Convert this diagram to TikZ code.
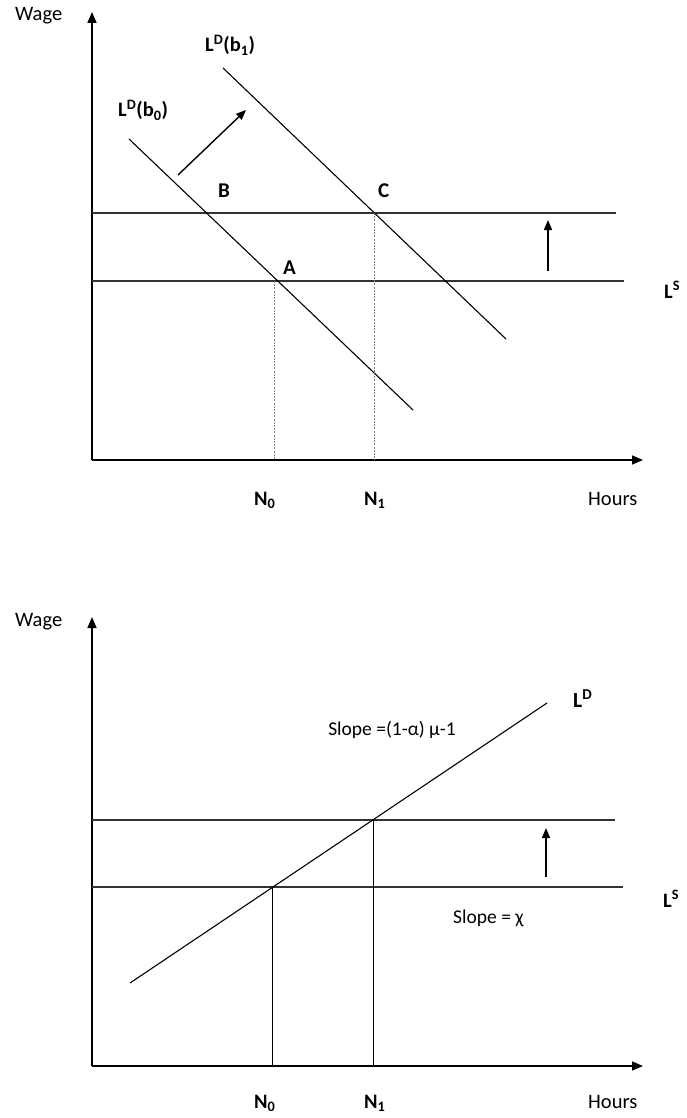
\documentclass[tikz,border=0pt]{standalone}
\usepackage{fontspec}
\setmainfont{Carlito}
\usetikzlibrary{arrows.meta}
\begin{document}
\begin{tikzpicture}[x=1pt,y=-1pt,
  axis/.style={line width=1.6pt,-{Triangle[length=11pt,width=9pt]}},
  curve/.style={line width=1.1pt},
  level/.style={line width=1.1pt,black!80},
  guide/.style={line width=0.7pt,gray,dash pattern=on 2pt off 1.2pt},
  solidguide/.style={line width=0.9pt},
  shiftarrow/.style={line width=1.4pt,-{Triangle[length=10pt,width=8pt]}},
  lbl/.style={inner sep=0pt,anchor=base west,font=\fontsize{20.5}{24}\selectfont},
  blbl/.style={lbl,font=\fontsize{21}{24}\selectfont\bfseries},
  dlbl/.style={lbl,font=\fontsize{20.5}{24}\selectfont\bfseries},
  slbl/.style={lbl,font=\fontsize{19.5}{22}\selectfont}]
\useasboundingbox (0,0) rectangle (686,1118);
% ---------- top diagram ----------
\coordinate (O1) at (92,460);
\coordinate (Y1) at (92,12);
\coordinate (X1) at (643,460);
\draw[axis] (O1) -- (Y1);
\draw[axis] (O1) -- (X1);
\node[lbl] (wage1) at (15,21) {Wage};
\node[lbl] (hours1) at (588,505) {Hours};
\coordinate (hiL1) at (92,213); \coordinate (hiR1) at (616,213);
\coordinate (loL1) at (92,281); \coordinate (loR1) at (624,281);
\draw[level] (hiL1) -- (hiR1);
\draw[level] (loL1) -- (loR1);
\coordinate (b0s) at (129,139); \coordinate (b0e) at (413,410);
\coordinate (b1s) at (223,68); \coordinate (b1e) at (506,339);
\draw[curve] (b0s) -- (b0e);
\draw[curve] (b1s) -- (b1e);
\coordinate (A) at (274,281); \coordinate (C) at (374,213);
\coordinate (Ab) at (274,460); \coordinate (Cb) at (374,460);
\draw[guide] (A) -- (Ab);
\draw[guide] (C) -- (Cb);
\coordinate (sh0) at (178,175); \coordinate (sh1) at (246,110);
\draw[shiftarrow] (sh0) -- (sh1);
\coordinate (up0) at (548,271); \coordinate (up1) at (548,220);
\draw[shiftarrow] (up0) -- (up1);
\node[dlbl] (ldb1) at (205,52) {L\textsuperscript{D}(b\textsubscript{1})};
\node[dlbl] (ldb0) at (118,117) {L\textsuperscript{D}(b\textsubscript{0})};
\node[blbl] (lblB) at (218,197) {B};
\node[blbl] (lblC) at (378,197) {C};
\node[blbl] (lblA) at (283,274) {A};
\node[dlbl] (ls1) at (664,298) {L\textsuperscript{S}};
\node[dlbl] (n01) at (254,505) {N\textsubscript{0}};
\node[dlbl] (n11) at (364,505) {N\textsubscript{1}};
% ---------- bottom diagram ----------
\coordinate (O2) at (92,1066);
\coordinate (Y2) at (92,617);
\coordinate (X2) at (643,1066);
\draw[axis] (O2) -- (Y2);
\draw[axis] (O2) -- (X2);
\node[lbl] (wage2) at (15,626) {Wage};
\node[lbl] (hours2) at (588,1108) {Hours};
\coordinate (hiL2) at (92,820); \coordinate (hiR2) at (615,820);
\coordinate (loL2) at (92,887); \coordinate (loR2) at (623,887);
\draw[level] (hiL2) -- (hiR2);
\draw[level] (loL2) -- (loR2);
\coordinate (lds) at (130,983); \coordinate (lde) at (547,703);
\draw[curve] (lds) -- (lde);
\coordinate (E0) at (272,887); \coordinate (E1) at (373,820);
\coordinate (E0b) at (272,1066); \coordinate (E1b) at (373,1066);
\draw[solidguide] (E0) -- (E0b);
\draw[solidguide] (E1) -- (E1b);
\coordinate (up2a) at (546,877); \coordinate (up2b) at (546,828);
\draw[shiftarrow] (up2a) -- (up2b);
\node[dlbl,font=\fontsize{21.5}{24}\selectfont\bfseries] (ld2) at (573,707) {L\textsuperscript{D}};
\node[dlbl] (ls2) at (663,907) {L\textsuperscript{S}};
\node[slbl,anchor=base east] (slope1) at (456,735) {Slope =(1-α) µ-1};
\node[slbl] (slope2) at (453,923) {Slope = χ};
\node[dlbl] (n02) at (254,1108) {N\textsubscript{0}};
\node[dlbl] (n12) at (364,1108) {N\textsubscript{1}};
\end{tikzpicture}
\end{document}
